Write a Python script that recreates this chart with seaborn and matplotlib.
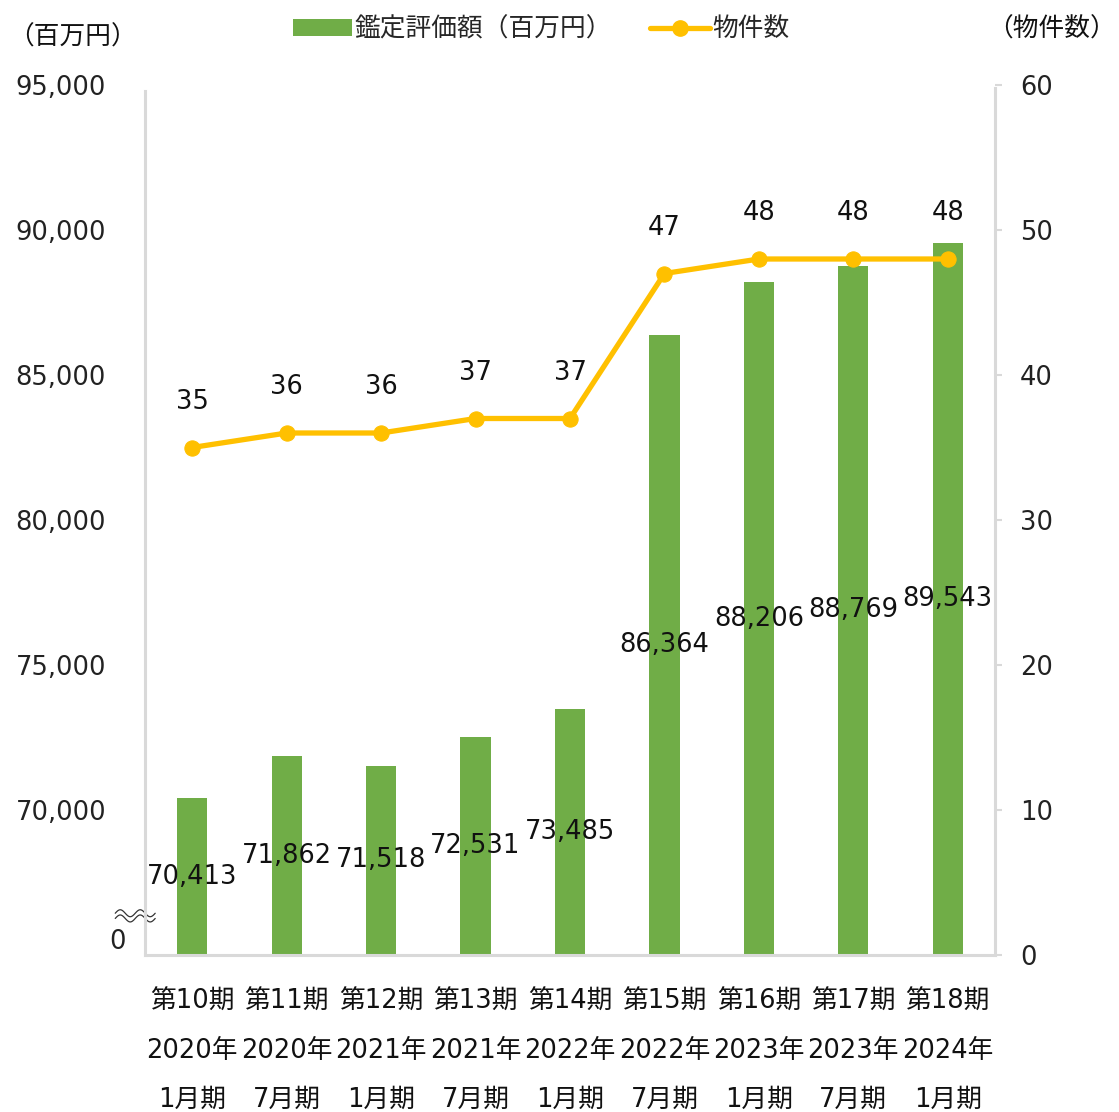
import numpy as np
import matplotlib
matplotlib.use("Agg")
import matplotlib.pyplot as plt
import matplotlib.ticker as mticker
from matplotlib.lines import Line2D
from matplotlib.patches import Patch
import seaborn as sns

terms = ["第10期", "第11期", "第12期", "第13期", "第14期", "第15期", "第16期", "第17期", "第18期"]
years = ["2020年", "2020年", "2021年", "2021年", "2022年", "2022年", "2023年", "2023年", "2024年"]
months = ["1月期", "7月期", "1月期", "7月期", "1月期", "7月期", "1月期", "7月期", "1月期"]
appraisal = [70413, 71862, 71518, 72531, 73485, 86364, 88206, 88769, 89543]
properties = [35, 36, 36, 37, 37, 47, 48, 48, 48]
left_ticks = [65000, 70000, 75000, 80000, 85000, 90000, 95000]
right_ticks = [0, 10, 20, 30, 40, 50, 60]

GREEN = "#70AD47"
YELLOW = "#FFC000"
GRAY = "#D9D9D9"
FS = 18.5

sns.set_theme(style="white")
plt.rcParams["font.family"] = ["DejaVu Sans", "Noto Sans CJK JP"]

labels = [f"{t}\n{y}\n{m}" for t, y, m in zip(terms, years, months)]

fig = plt.figure(figsize=(11.19, 11.12), dpi=100)
ax = fig.add_axes([145 / 1119, 1 - 955 / 1112, 850 / 1119, 870 / 1112])

sns.barplot(x=labels, y=appraisal, ax=ax, color=GREEN, width=0.32,
            saturation=1, edgecolor="none")
ax.set_ylim(65000, 95000)
ax.set_xlim(-0.5, len(labels) - 0.5)
ax.set_yticks(left_ticks[1:])
ax.yaxis.set_major_formatter(mticker.FuncFormatter(lambda v, p: f"{int(v):,}"))
ax.tick_params(axis="y", labelsize=FS, length=0, pad=28, colors="#222222")
ax.tick_params(axis="x", labelsize=FS, length=0, pad=24)
for t in ax.get_xticklabels():
    t.set_linespacing(2.17)
    t.set_color("#111111")
ax.text(126 / 1119, left_ticks[0], "0",
        transform=matplotlib.transforms.blended_transform_factory(fig.transFigure, ax.transData),
        ha="right", va="bottom", fontsize=FS, color="#222222")

for i, v in enumerate(appraisal):
    ax.text(i, (v + left_ticks[0]) / 2, f"{v:,}", ha="center", va="center",
            fontsize=FS, color="#111111", zorder=5)

for s in ["top", "right"]:
    ax.spines[s].set_visible(False)
ax.spines["left"].set_color(GRAY)
ax.spines["left"].set_linewidth(2.2)
ax.spines["left"].set_bounds(65000, 94800)
ax.spines["bottom"].set_color(GRAY)
ax.spines["bottom"].set_linewidth(2.2)

# axis break mark
xs = np.linspace(-0.035, 0.012, 60)
for off in (0.0, -0.006):
    ys = 0.048 + off + 0.004 * np.sin((xs + 0.035) / 0.047 * 2 * np.pi * 2)
    ax.plot(xs, ys, transform=ax.transAxes, color="#333333", lw=0.9, clip_on=False)

ax2 = ax.twinx()
sns.lineplot(x=np.arange(len(properties)), y=properties, ax=ax2, color=YELLOW,
             linewidth=3.8, marker="o", markersize=11, markeredgecolor=YELLOW,
             legend=False)
ax2.set_ylim(0, 60)
ax2.set_yticks(right_ticks)
ax2.tick_params(axis="y", labelsize=FS, direction="out", length=5, width=1.5,
                color=GRAY, pad=13, colors="#222222")
ax2.tick_params(axis="y", color=GRAY)
for s in ["top", "left", "bottom"]:
    ax2.spines[s].set_visible(False)
ax2.spines["right"].set_color(GRAY)
ax2.spines["right"].set_linewidth(2.2)
ax2.spines["right"].set_bounds(0, 59.8)
ax2.set_xlim(-0.5, len(labels) - 0.5)

for i, c in enumerate(properties):
    ax2.annotate(str(c), (i, c), xytext=(0, 33), textcoords="offset points",
                 ha="center", va="center", fontsize=FS, color="#111111")

fig.text(8 / 1119, 1 - 38 / 1112, "（百万円）", fontsize=FS, ha="left", va="center", color="#111111")
fig.text(1116 / 1119, 1 - 30 / 1112, "（物件数）", fontsize=FS, ha="right", va="center", color="#111111")

handles = [Patch(facecolor=GREEN, edgecolor="none", label="鑑定評価額（百万円）"),
           Line2D([0], [0], color=YELLOW, lw=3.8, marker="o", markersize=11, label="物件数")]
fig.legend(handles=handles, loc="upper center", bbox_to_anchor=(0.4835, 1.006), ncol=2,
           frameon=False, fontsize=FS, handlelength=2.3, handletextpad=0.1,
           columnspacing=1.5, handleheight=0.6)

fig.savefig("out.png", dpi=100, facecolor="white")
